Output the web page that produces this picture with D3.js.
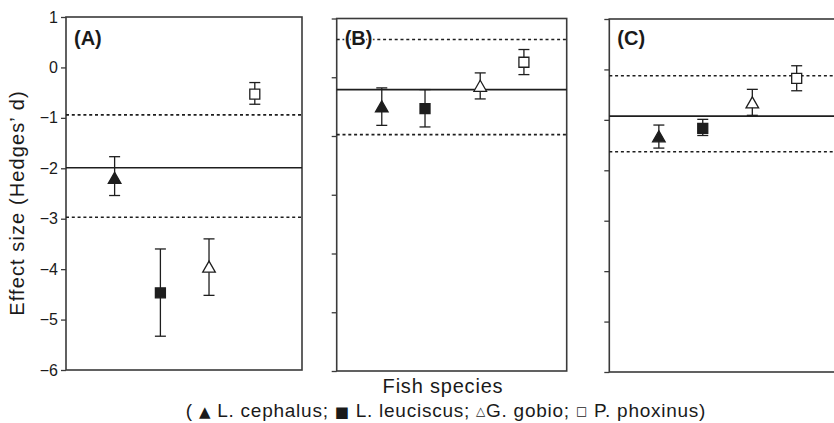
<!DOCTYPE html>
<html>
<head>
<meta charset="utf-8">
<script src="https://cdn.jsdelivr.net/npm/d3@7"></script>
<style>
  body { margin: 0; background: #fff; }
  svg text { font-family: "Liberation Sans", Arial, sans-serif; fill: #1a1a1a; }
</style>
</head>
<body>
<div id="chart"></div>
<script>
// 魚種 與 記號
const species = ["L. cephalus", "L. leuciscus", "G. gobio", "P. phoxinus"]
const markerType = ["triFill", "sqFill", "triOpen", "sqOpen"]
const panelNames = ["(A)", "(B)", "(C)"]

// (A) 效果量 與 誤差
const xPosA = [1.03, 2.0, 3.03, 4.0]
const effA = [-2.20, -4.47, -3.96, -0.53]
const lowA = [-2.54, -5.33, -4.52, -0.73]
const highA = [-1.77, -3.60, -3.40, -0.30]
const pooledA = [-2.97, -1.99, -0.94]   // 下界, 平均, 上界

// (B)
const xPosB = [0.98, 1.92, 3.12, 4.07]
const effB = [-0.505, -0.534, -0.154, 0.255]
const lowB = [-0.819, -0.846, -0.369, 0.045]
const highB = [-0.181, -0.21, 0.074, 0.472]
const pooledB = [-0.977, -0.21, 0.642]

// (C)
const xPosC = [1.05, 1.98, 3.03, 3.97]
const effC = [-1.336, -1.169, -0.663, -0.177]
const lowC = [-1.56, -1.31, -0.91, -0.423]
const highC = [-1.103, -0.99, -0.395, 0.073]
const pooledC = [-1.633, -0.925, -0.125]

// 刻度
const ticksA = [1, 0, -1, -2, -3, -4, -5, -6]
const ticksB = [1, 0, -1, -2, -3, -4, -5]
const ticksC = [1, 0, -1, -2, -3, -4, -5, -6]

let svg = d3.select("#chart")
    .append("svg")
    .attr("width", 834)
    .attr("height", 423)

const INK = "#1e1e1e"
const AXIS = "#3a3a3a"

// 面板設定
let panels = [
    {name: panelNames[0], left: 66, right: 302, top: 17, bottom: 370, ydom: [-6, 1], ticks: ticksA, labels: true,
     xs: xPosA, eff: effA, low: lowA, high: highA, pooled: pooledA},
    {name: panelNames[1], left: 336.7, right: 566.7, top: 18.5, bottom: 371, ydom: [-5, 1], ticks: ticksB, labels: false,
     xs: xPosB, eff: effB, low: lowB, high: highB, pooled: pooledB},
    {name: panelNames[2], left: 609.3, right: 845.3, top: 19, bottom: 372, ydom: [-6, 1], ticks: ticksC, labels: false,
     xs: xPosC, eff: effC, low: lowC, high: highC, pooled: pooledC}
]

// 記號的路徑
function markerPath(type){
    if(type.startsWith("tri")) return "M0,-6L6.3,5L-6.3,5Z"
    return "M-5,-5H5V5H-5Z"
}

panels.forEach(p => {
    let x = d3.scaleLinear().domain([0, 5]).range([p.left, p.right])
    let y = d3.scaleLinear().domain(p.ydom).range([p.bottom, p.top])
    let g = svg.append("g")

    // 左軸
    let axis = d3.axisLeft(y)
        .tickValues(p.ticks)
        .tickSize(5)
        .tickSizeOuter(0)
        .tickFormat(p.labels ? d3.format("d") : "")
    let ax = g.append("g")
        .attr("transform", `translate(${p.left},0)`)
        .call(axis)
    ax.select(".domain").remove()
    ax.selectAll(".tick line").attr("stroke", AXIS).attr("stroke-width", 1.3)
    ax.selectAll(".tick text")
        .attr("x", -8)
        .style("font-size", "16px")
        .style("font-family", "Liberation Sans, Arial, sans-serif")
        .attr("fill", INK)

    // 框
    g.append("rect")
        .attr("x", p.left)
        .attr("y", p.top)
        .attr("width", p.right - p.left)
        .attr("height", p.bottom - p.top)
        .attr("fill", "none")
        .attr("stroke", AXIS)
        .attr("stroke-width", 1.6)

    // 合併效果量: 虛線上下界, 實線平均
    g.selectAll(".pooled")
        .data(p.pooled)
        .enter()
        .append("line")
        .attr("x1", p.left)
        .attr("x2", p.right)
        .attr("y1", d => y(d))
        .attr("y2", d => y(d))
        .attr("stroke", INK)
        .attr("stroke-width", 1.6)
        .attr("stroke-dasharray", (d, i) => i == 1 ? null : "3,2.8")

    // 面板名稱
    g.append("text")
        .attr("x", p.left + 8)
        .attr("y", 45)
        .text(p.name)
        .style("font-size", "20px")
        .style("font-weight", "bold")
        .attr("stroke", "#fff")
        .attr("stroke-width", 3)
        .attr("paint-order", "stroke")

    // 誤差線
    let rows = species.map((s, i) => ({sp: s, type: markerType[i], x: p.xs[i], e: p.eff[i], lo: p.low[i], hi: p.high[i]}))
    let bars = g.selectAll(".err")
        .data(rows)
        .enter()
        .append("g")
    bars.append("line")
        .attr("x1", d => x(d.x)).attr("x2", d => x(d.x))
        .attr("y1", d => y(d.lo)).attr("y2", d => y(d.hi))
        .attr("stroke", INK).attr("stroke-width", 1.3)
    bars.selectAll(".cap")
        .data(d => [d.lo, d.hi].map(v => ({x: d.x, v: v})))
        .enter()
        .append("line")
        .attr("x1", d => x(d.x) - 5.5).attr("x2", d => x(d.x) + 5.5)
        .attr("y1", d => y(d.v)).attr("y2", d => y(d.v))
        .attr("stroke", INK).attr("stroke-width", 1.3)
    bars.append("path")
        .attr("d", d => markerPath(d.type))
        .attr("transform", d => `translate(${x(d.x)},${y(d.e)})`)
        .attr("fill", d => d.type.endsWith("Fill") ? INK : "#fff")
        .attr("stroke", INK)
        .attr("stroke-width", 1.3)
})

// Y 軸標題
svg.append("text")
    .attr("transform", "translate(24,203) rotate(-90)")
    .attr("text-anchor", "middle")
    .style("font-size", "20px")
    .style("letter-spacing", "1.1px")
    .text("Effect size (Hedges’ d)")

// X 軸標題
svg.append("text")
    .attr("x", 443)
    .attr("y", 393)
    .attr("text-anchor", "middle")
    .style("font-size", "20px")
    .style("letter-spacing", "0.8px")
    .text("Fish species")

// 圖例
let legend = svg.append("text")
    .attr("x", 446)
    .attr("y", 417)
    .attr("text-anchor", "middle")
    .style("font-size", "19px")
    .style("letter-spacing", "0.75px")
legend.append("tspan").text("( ")
legend.append("tspan").text("▲").style("font-size", "15px").style("font-family", "DejaVu Sans")
legend.append("tspan").text(" L. cephalus; ")
legend.append("tspan").text("■").style("font-size", "15px").style("font-family", "DejaVu Sans")
legend.append("tspan").text(" L. leuciscus; ")
legend.append("tspan").text("△").style("font-size", "12px").style("font-family", "DejaVu Sans").attr("dy", -2)
legend.append("tspan").text("G. gobio; ").attr("dy", 2)
legend.append("tspan").text("□").style("font-size", "12px").style("font-family", "DejaVu Sans").attr("dy", -2)
legend.append("tspan").text(" P. phoxinus)").attr("dy", 2)
</script>
</body>
</html>
